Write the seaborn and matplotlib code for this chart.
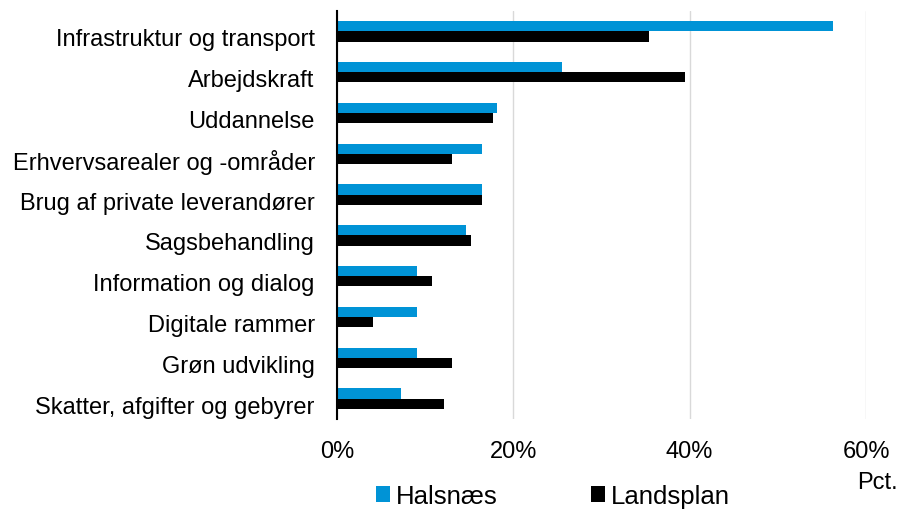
import pandas as pd
import matplotlib.pyplot as plt
import matplotlib.transforms as mtransforms
import seaborn as sns
from matplotlib.ticker import FuncFormatter
from matplotlib.patches import Patch

# Data (aflæst fra figuren, i pct.)
kategorier = [
    "Infrastruktur og transport",
    "Arbejdskraft",
    "Uddannelse",
    "Erhvervsarealer og -områder",
    "Brug af private leverandører",
    "Sagsbehandling",
    "Information og dialog",
    "Digitale rammer",
    "Grøn udvikling",
    "Skatter, afgifter og gebyrer",
]
halsnaes = [56.3, 25.5, 18.2, 16.4, 16.4, 14.6, 9.1, 9.1, 9.1, 7.3]
landsplan = [35.4, 39.5, 17.7, 13.0, 16.4, 15.2, 10.8, 4.1, 13.1, 12.1]
serier = ["Halsnæs", "Landsplan"]
farver = ["#0093D6", "#000000"]

df = pd.DataFrame({
    "kategori": kategorier * 2,
    "serie": [serier[0]] * len(kategorier) + [serier[1]] * len(kategorier),
    "vaerdi": halsnaes + landsplan,
})

sns.set_style("white")
plt.rcParams["font.family"] = ["Liberation Sans", "DejaVu Sans"]
plt.rcParams["text.color"] = "black"

fig = plt.figure(figsize=(8.99, 5.10), dpi=100)
ax = fig.add_axes([337 / 899, 1 - 420 / 510, (866 - 337) / 899, 408 / 510])

sns.barplot(data=df, y="kategori", x="vaerdi", hue="serie", hue_order=serier,
            palette=farver, orient="h", width=0.5, ax=ax, legend=False,
            saturation=1, linewidth=0)

ax.set_xlim(0, 60)
ax.set_xticks([0, 20, 40, 60])
ax.xaxis.set_major_formatter(FuncFormatter(lambda v, _: f"{v:.0f}%"))
ax.grid(axis="x", color="#D9D9D9", linewidth=1)
ax.set_axisbelow(True)
ax.set_xlabel("")
ax.set_ylabel("")
for s in ["top", "right", "bottom"]:
    ax.spines[s].set_visible(False)
ax.spines["left"].set_color("black")
ax.spines["left"].set_linewidth(1.5)
ax.tick_params(axis="both", length=0, labelsize=17, colors="black")
ax.tick_params(axis="x", pad=15)
ax.tick_params(axis="y", pad=16)

# kategoritekster lidt ned, som i originalen
forskyd = mtransforms.ScaledTranslation(0, -4 / 72, fig.dpi_scale_trans)
for lbl in ax.get_yticklabels():
    lbl.set_transform(lbl.get_transform() + forskyd)

handles = [Patch(facecolor=c, edgecolor="none") for c in farver]
fig.legend(handles, serier, loc="center", bbox_to_anchor=(553 / 899, 1 - 497 / 510),
           ncol=2, frameon=False, fontsize=18.5, handlelength=0.55, handleheight=0.55,
           handletextpad=0.25, columnspacing=3.6, borderpad=0, labelcolor="black")
fig.text(898 / 899, 1 - 483 / 510, "Pct.", ha="right", va="center", fontsize=17,
         color="black")

fig.savefig("out.png", dpi=100)
plt.close(fig)
